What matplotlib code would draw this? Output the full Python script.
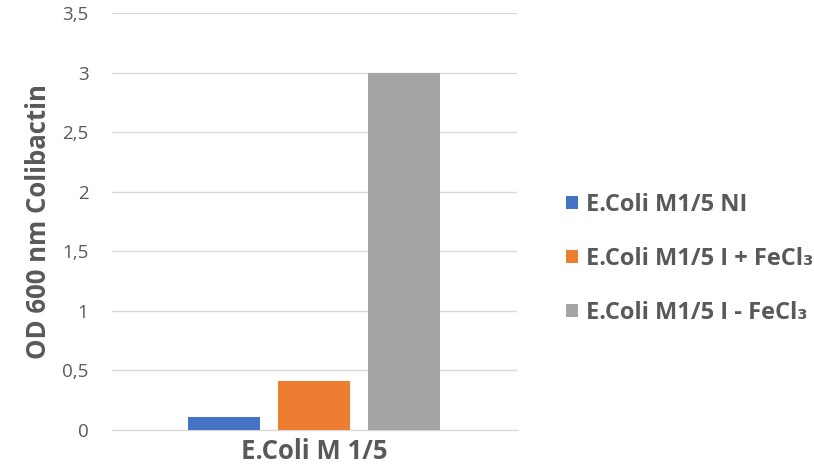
import matplotlib
matplotlib.use("Agg")
import matplotlib.pyplot as plt
from matplotlib.patches import Patch

plt.rcParams['font.family'] = ['Open Sans', 'DejaVu Sans']

category = "E.Coli M 1/5"
series = ["E.Coli M1/5 NI", "E.Coli M1/5 I + FeCl\u2083", "E.Coli M1/5 I - FeCl\u2083"]
values = [0.11, 0.41, 3.0]
colors = ["#4472C4", "#ED7D31", "#A5A5A5"]
yticks = [0, 0.5, 1, 1.5, 2, 2.5, 3, 3.5]
yticklabels = ["0", "0,5", "1", "1,5", "2", "2,5", "3", "3,5"]

text_color = "#595959"

fig = plt.figure(figsize=(8.14, 4.72), dpi=100)
ax = fig.add_axes([112 / 814, 1 - 430 / 472, 405 / 814, 417 / 472])

offsets = [-1, 0, 1]
for off, v, c in zip(offsets, values, colors):
    ax.bar(off, v, width=0.79, color=c, zorder=3)

ax.set_xlim(-2.244, 2.256)
ax.set_ylim(0, 3.5)
ax.set_yticks(yticks)
ax.set_yticklabels(yticklabels, fontsize=13.5, color=text_color)
ax.tick_params(axis='y', length=0, pad=17)
ax.set_xticks([0])
ax.set_xticklabels([category], fontsize=18.5, fontweight='bold', color=text_color)
ax.tick_params(axis='x', length=0, pad=5.5)

ax.grid(axis='y', color="#D9D9D9", linewidth=1, zorder=0)
for s in ["top", "right", "left"]:
    ax.spines[s].set_visible(False)
ax.spines["bottom"].set_color("#D9D9D9")
ax.spines["bottom"].set_linewidth(1)

ax.set_ylabel("OD 600 nm Colibactin", fontsize=18.5, fontweight='bold', color=text_color, labelpad=7)

handles = [Patch(facecolor=c, edgecolor='none') for c in colors]
leg = fig.legend(handles, series, loc='center left', bbox_to_anchor=(566 / 814, 1 - 259 / 472),
                 frameon=False, fontsize=17, labelspacing=1.27, handlelength=0.5,
                 handleheight=0.5, handletextpad=0.35, borderpad=0, borderaxespad=0)
for t in leg.get_texts():
    t.set_color(text_color)
    t.set_fontweight('bold')

fig.savefig("out.png", dpi=100)
